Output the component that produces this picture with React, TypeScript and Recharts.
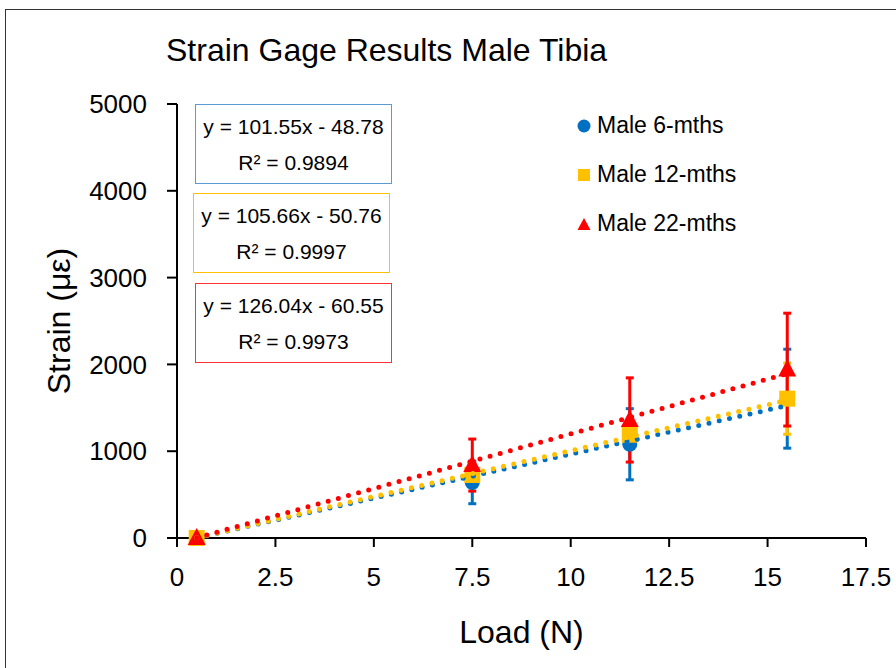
import React from "react";
import {
  ComposedChart,
  Scatter,
  XAxis,
  YAxis,
  ErrorBar,
} from "recharts";

const loads = [0.5, 7.5, 11.5, 15.5];

const strain6 = [0, 640, 1080, 1605];
const err6 = [0, 245, 410, 570];
const strain12 = [0, 726, 1190, 1605];
const err12 = [0, 50, 60, 410];
const strain22 = [0, 840, 1360, 1940];
const err22 = [0, 300, 485, 650];

const seriesNames = ["Male 6-mths", "Male 12-mths", "Male 22-mths"];
const seriesColors = ["#0070C0", "#FFC000", "#FF0000"];
const boxColors = ["#5B9BD5", "#FFC000", "#FF3333"];
const slopes = [101.55, 105.66, 126.04];
const intercepts = [-48.78, -50.76, -60.55];
const rSquared = ["0.9894", "0.9997", "0.9973"];
const trendRange = [0.5, 15.5];

const xTicks = [0, 2.5, 5, 7.5, 10, 12.5, 15, 17.5];
const yTicks = [0, 1000, 2000, 3000, 4000, 5000];

const FONT = "'Liberation Sans', Arial, sans-serif";

const build = (vals: number[], errs: number[]) =>
  loads.map((x, i) => ({ x, y: vals[i], err: errs[i] }));

const data6 = build(strain6, err6);
const data12 = build(strain12, err12);
const data22 = build(strain22, err22);

// trendlines from the fitted equations shown in the boxes
const trends = slopes.map((m, i) =>
  trendRange.map((x) => ({ x, y: m * x + intercepts[i] }))
);

const Circle = (p: any) => <circle cx={p.cx} cy={p.cy} r={7.5} fill={seriesColors[0]} />;
const Square = (p: any) => (
  <rect x={p.cx - 8} y={p.cy - 8} width={16} height={16} fill={seriesColors[1]} />
);
const Triangle = (p: any) => (
  <polygon
    points={`${p.cx},${p.cy - 10} ${p.cx - 9},${p.cy + 7} ${p.cx + 9},${p.cy + 7}`}
    fill={seriesColors[2]}
  />
);
const NoShape = () => <g />;

const LegendMarker = ({ i }: { i: number }) => {
  if (i === 0) return <svg width={16} height={16}><circle cx={8} cy={8} r={6.5} fill={seriesColors[0]} /></svg>;
  if (i === 1) return <svg width={16} height={16}><rect x={2} y={2} width={12} height={12} fill={seriesColors[1]} /></svg>;
  return <svg width={16} height={16}><polygon points="8,2 1.5,14 14.5,14" fill={seriesColors[2]} /></svg>;
};

const fmt = (v: number) => (v < 0 ? `- ${Math.abs(v).toFixed(2)}` : `+ ${v.toFixed(2)}`);

export default function App() {
  const boxTops = [104, 193, 283];
  const boxLefts = [195, 193, 195];
  return (
    <div style={{ position: "absolute", left: 0, top: 0, width: 896, height: 668, overflow: "hidden", background: "#fff" }}>
      <div
        style={{
          position: "absolute",
          left: 5,
          top: 9,
          width: 900,
          height: 700,
          border: "1.5px solid #333",
          boxSizing: "border-box",
        }}
      />
      <div
        style={{
          position: "absolute",
          left: 166,
          top: 31,
          fontFamily: FONT,
          fontSize: 32,
          lineHeight: "38px",
          color: "#000",
          whiteSpace: "nowrap",
        }}
      >
        Strain Gage Results Male Tibia
      </div>
      <ComposedChart
        width={896}
        height={668}
        margin={{ top: 104, right: 30, bottom: 70, left: 97 }}
        style={{ position: "absolute", left: 0, top: 0, fontFamily: FONT }}
      >
        <XAxis
          type="number"
          dataKey="x"
          domain={[0, 17.5]}
          ticks={xTicks}
          interval={0}
          height={60}
          axisLine={{ stroke: "#000", strokeWidth: 2 }}
          tickLine={{ stroke: "#000", strokeWidth: 2 }}
          tickSize={9}
          tickMargin={21}
          tick={{ fill: "#000", fontSize: 26, fontFamily: FONT }}
          label={{ value: "Load (N)", position: "bottom", offset: 22, fill: "#000", fontSize: 32, fontFamily: FONT }}
        />
        <YAxis
          type="number"
          dataKey="y"
          domain={[0, 5000]}
          ticks={yTicks}
          interval={0}
          width={80}
          axisLine={{ stroke: "#000", strokeWidth: 2 }}
          tickLine={{ stroke: "#000", strokeWidth: 2 }}
          tickSize={10}
          tickMargin={20}
          tick={{ fill: "#000", fontSize: 26, fontFamily: FONT }}
          label={{
            value: "Strain (με)",
            angle: -90,
            position: "left",
            offset: 38,
            fill: "#000",
            fontSize: 32,
            fontFamily: FONT,
            style: { textAnchor: "middle" },
          }}
        />
        <Scatter name={seriesNames[0]} data={data6} fill={seriesColors[0]} shape={Circle} isAnimationActive={false}>
          <ErrorBar dataKey="err" direction="y" width={4} strokeWidth={3} stroke={seriesColors[0]} />
        </Scatter>
        <Scatter name={seriesNames[1]} data={data12} fill={seriesColors[1]} shape={Square} isAnimationActive={false}>
          <ErrorBar dataKey="err" direction="y" width={4} strokeWidth={3} stroke={seriesColors[1]} />
        </Scatter>
        <Scatter name={seriesNames[2]} data={data22} fill={seriesColors[2]} shape={Triangle} isAnimationActive={false}>
          <ErrorBar dataKey="err" direction="y" width={4} strokeWidth={3} stroke={seriesColors[2]} />
        </Scatter>
        {trends.map((t, i) => (
          <Scatter
            key={`trend-${i}`}
            name={`trend-${i}`}
            legendType="none"
            data={t}
            fill={seriesColors[i]}
            shape={NoShape}
            line={{ stroke: seriesColors[i], strokeWidth: 5, strokeDasharray: "0 10.5", strokeLinecap: "round" }}
            isAnimationActive={false}
          />
        ))}
      </ComposedChart>
      <div style={{ position: "absolute", left: 576, top: 101, fontFamily: FONT, fontSize: 23, color: "#000" }}>
        {seriesNames.map((n, i) => (
          <div key={n} style={{ display: "flex", alignItems: "center", height: 49 }}>
            <LegendMarker i={i} />
            <span style={{ marginLeft: 5 }}>{n}</span>
          </div>
        ))}
      </div>
      {slopes.map((m, i) => (
        <div
          key={`eq-${i}`}
          style={{
            position: "absolute",
            left: boxLefts[i],
            top: boxTops[i],
            width: 197,
            height: 80,
            border: `1.5px solid ${boxColors[i]}`,
            boxSizing: "border-box",
            fontFamily: FONT,
            fontSize: 21,
            color: "#000",
            textAlign: "center",
            background: "#fff",
          }}
        >
          <div style={{ lineHeight: "24px", marginTop: 10 }}>{`y = ${m.toFixed(2)}x ${fmt(intercepts[i])}`}</div>
          <div style={{ lineHeight: "24px", marginTop: 12 }}>{`R² = ${rSquared[i]}`}</div>
        </div>
      ))}
    </div>
  );
}
